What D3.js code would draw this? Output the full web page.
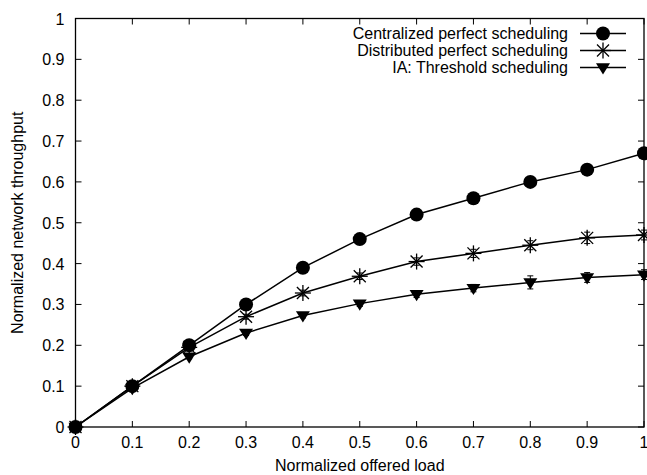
<!DOCTYPE html>
<html>
<head>
<meta charset="utf-8">
<script src="https://cdn.jsdelivr.net/npm/d3@7"></script>
<style>
  body { margin: 0; background: #fff; }
  text { font-family: "Liberation Sans", Arial, sans-serif; font-size: 16px; fill: #000; }
</style>
</head>
<body>
<svg id="chart" width="647" height="475"></svg>
<script>
const loads = [0, 0.1, 0.2, 0.3, 0.4, 0.5, 0.6, 0.7, 0.8, 0.9, 1]
const centralized = [0, 0.1, 0.2, 0.3, 0.39, 0.46, 0.52, 0.56, 0.6, 0.63, 0.67]
const distributed = [0, 0.1, 0.195, 0.27, 0.328, 0.369, 0.405, 0.425, 0.445, 0.463, 0.47]
const distributedErr = [0, 0.004, 0.005, 0.006, 0.007, 0.008, 0.009, 0.010, 0.011, 0.014, 0.012]
const threshold = [0, 0.095, 0.172, 0.23, 0.273, 0.302, 0.325, 0.34, 0.354, 0.366, 0.373]
const thresholdErr = [0, 0.004, 0.005, 0.006, 0.006, 0.007, 0.008, 0.009, 0.016, 0.012, 0.012]
const xTicks = [0, 0.1, 0.2, 0.3, 0.4, 0.5, 0.6, 0.7, 0.8, 0.9, 1]
const yTicks = [0, 0.1, 0.2, 0.3, 0.4, 0.5, 0.6, 0.7, 0.8, 0.9, 1]
const seriesNames = ['Centralized perfect scheduling', 'Distributed perfect scheduling', 'IA: Threshold scheduling']

const svg = d3.select('#chart')
const m = { left: 75.5, right: 644, top: 18.5, bottom: 427 }

let x = d3.scaleLinear().domain([0, 1]).range([m.left, m.right])
let y = d3.scaleLinear().domain([0, 1]).range([m.bottom, m.top])

// ticks inward on all four sides, gnuplot style
function tickLines(g, vals, scale, horiz) {
  vals.forEach(function(v) {
    if(horiz) {
      g.append('line').attr('x1', scale(v)).attr('x2', scale(v)).attr('y1', m.bottom).attr('y2', m.bottom - 6)
      g.append('line').attr('x1', scale(v)).attr('x2', scale(v)).attr('y1', m.top).attr('y2', m.top + 6)
    } else {
      g.append('line').attr('y1', scale(v)).attr('y2', scale(v)).attr('x1', m.left).attr('x2', m.left + 6)
      g.append('line').attr('y1', scale(v)).attr('y2', scale(v)).attr('x1', m.right).attr('x2', m.right - 6)
    }
  })
}
let ticks = svg.append('g').attr('stroke', '#000').attr('stroke-width', 1)
tickLines(ticks, xTicks, x, true)
tickLines(ticks, yTicks, y, false)

svg.append('g').selectAll('text').data(xTicks).join('text')
  .attr('x', d => x(d)).attr('y', m.bottom + 21)
  .attr('text-anchor', 'middle')
  .text(d => d3.format('~g')(d))

svg.append('g').selectAll('text').data(yTicks).join('text')
  .attr('x', m.left - 11).attr('y', d => y(d) + 6)
  .attr('text-anchor', 'end')
  .text(d => d3.format('~g')(d))

svg.append('text').attr('x', (m.left + m.right) / 2).attr('y', 471)
  .attr('text-anchor', 'middle').text('Normalized offered load')
svg.append('text').attr('transform', 'translate(23,' + (m.top + m.bottom) / 2 + ') rotate(-90)')
  .attr('text-anchor', 'middle').text('Normalized network throughput')

svg.append('rect').attr('x', m.left).attr('y', m.top)
  .attr('width', m.right - m.left).attr('height', m.bottom - m.top)
  .attr('fill', 'none').attr('stroke', '#000').attr('stroke-width', 1.3)

const line = d3.line().x((d, i) => x(loads[i])).y(d => y(d))

function drawMarker(g, kind, cx, cy) {
  if(kind === 'circle') {
    g.append('circle').attr('cx', cx).attr('cy', cy).attr('r', 7).attr('fill', '#000')
  } else if(kind === 'star') {
    let r = 8
    let p = g.append('g').attr('stroke', '#000').attr('stroke-width', 1.3)
    p.append('line').attr('x1', cx - r).attr('x2', cx + r).attr('y1', cy).attr('y2', cy)
    p.append('line').attr('x1', cx).attr('x2', cx).attr('y1', cy - r).attr('y2', cy + r)
    p.append('line').attr('x1', cx - r * 0.75).attr('x2', cx + r * 0.75).attr('y1', cy - r * 0.75).attr('y2', cy + r * 0.75)
    p.append('line').attr('x1', cx - r * 0.75).attr('x2', cx + r * 0.75).attr('y1', cy + r * 0.75).attr('y2', cy - r * 0.75)
  } else {
    let s = 7
    g.append('path').attr('d', 'M' + (cx - s) + ',' + (cy - s * 0.6) + 'L' + (cx + s) + ',' + (cy - s * 0.6) + 'L' + cx + ',' + (cy + s) + 'Z')
      .attr('fill', '#000')
  }
}

function drawSeries(vals, errs, kind) {
  let g = svg.append('g')
  g.append('path').datum(vals).attr('d', line)
    .attr('fill', 'none').attr('stroke', '#000').attr('stroke-width', 1.5)
  vals.forEach(function(v, i) {
    let cx = x(loads[i]), cy = y(v)
    if(errs && errs[i] > 0) {
      let e = g.append('g').attr('stroke', '#000').attr('stroke-width', 1)
      e.append('line').attr('x1', cx).attr('x2', cx).attr('y1', y(v - errs[i])).attr('y2', y(v + errs[i]))
      ;[v - errs[i], v + errs[i]].forEach(function(ev) {
        e.append('line').attr('x1', cx - 3).attr('x2', cx + 3).attr('y1', y(ev)).attr('y2', y(ev))
      })
    }
    drawMarker(g, kind, cx, cy)
  })
}

drawSeries(threshold, thresholdErr, 'triangle')
drawSeries(distributed, distributedErr, 'star')
drawSeries(centralized, null, 'circle')

// legend
const kinds = ['circle', 'star', 'triangle']
seriesNames.forEach(function(name, i) {
  let ly = 33.5 + i * 17
  let g = svg.append('g')
  g.append('text').attr('x', 568).attr('y', ly + 5).attr('text-anchor', 'end').text(name)
  g.append('line').attr('x1', 580).attr('x2', 626).attr('y1', ly).attr('y2', ly)
    .attr('stroke', '#000').attr('stroke-width', 1.5)
  drawMarker(g, kinds[i], 603, ly)
})
</script>
</body>
</html>
